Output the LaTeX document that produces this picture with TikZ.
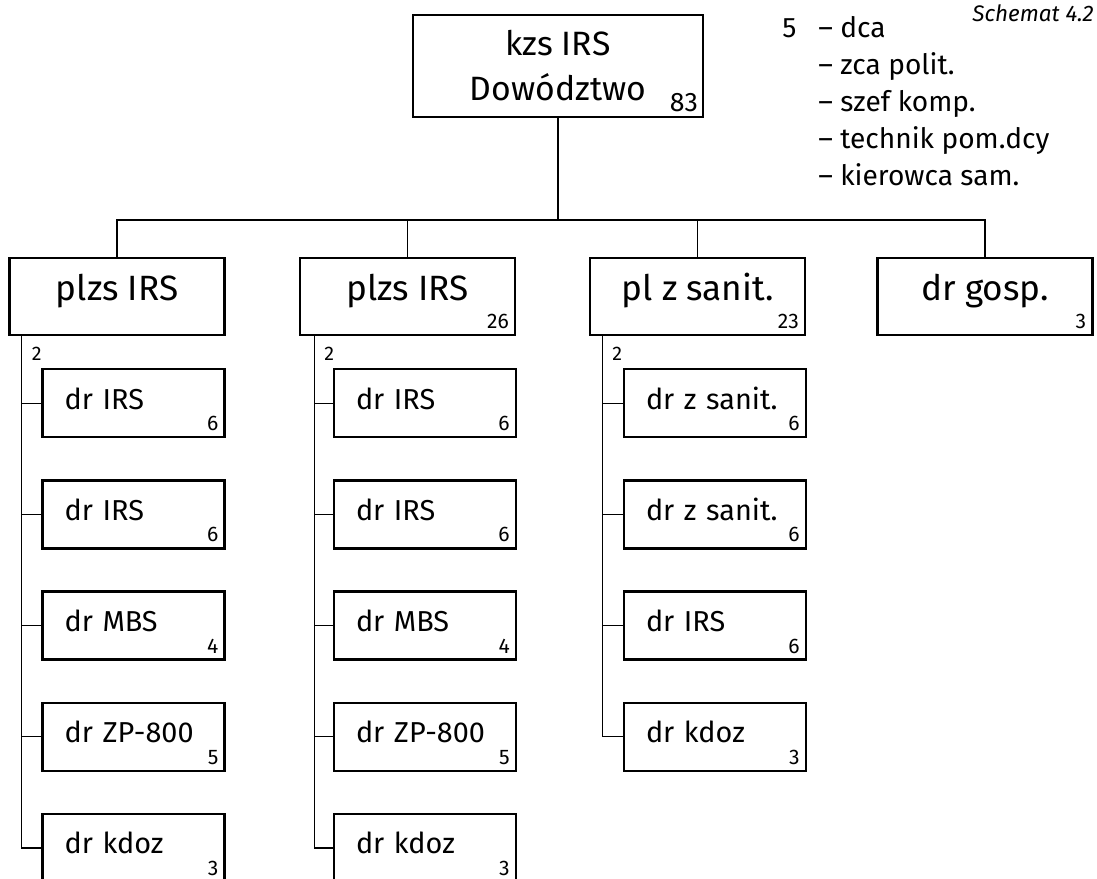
\documentclass[tikz,border=0pt]{standalone}
\usepackage{fontspec}
\setmainfont{Fira Sans}
\usepackage{tikz}
\usetikzlibrary{positioning}

\begin{document}
\begin{tikzpicture}[
    node distance=1.02cm,
    box/.style={rectangle, draw=black, line width=1.7pt, inner sep=0pt},
    topbox/.style={box, minimum width=7.25cm, minimum height=2.55cm, align=center,
                   font=\fontsize{24}{32}\selectfont},
    plbox/.style={box, minimum width=5.375cm, minimum height=1.925cm,
                  text height=0.7cm, text depth=0.5cm, font=\fontsize{25}{30}\selectfont},
    drbox/.style={box, text width=3.45cm, align=left, inner xsep=0.55cm,
                  minimum height=1.7cm, text height=0.55cm, text depth=0.25cm,
                  font=\fontsize{20.5}{24}\selectfont},
    num/.style={anchor=south east, inner sep=0.18cm, font=\fontsize{15}{17}\selectfont},
    cnt/.style={anchor=north west, inner sep=0pt, font=\fontsize{14}{16}\selectfont},
    staff/.style={anchor=north west, align=left, inner sep=0pt,
                  font=\fontsize{20}{26.3}\selectfont},
    line/.style={line width=0.8pt}
]
    \fill[white] (0,0) rectangle (27.425,-21.975);
    \useasboundingbox (0,0) rectangle (27.425,-21.975);

    % command and staff
    \node[topbox, label={[num, inner sep=0.15cm, font=\fontsize{19}{22}\selectfont]south east:83}]
        (hq) at (13.95,-1.65) {kzs IRS\\Dowództwo};
    \node[staff] (list) at (19.55,-0.4)
        {\makebox[0.9cm][l]{5}– dca\\
         \makebox[0.9cm]{}– zca polit.\\
         \makebox[0.9cm]{}– szef komp.\\
         \makebox[0.9cm]{}– technik pom.dcy\\
         \makebox[0.9cm]{}– kierowca sam.};
    \node[anchor=east, inner sep=0pt, font=\itshape\fontsize{16}{18}\selectfont]
        (title) at (27.35,-0.33) {Schemat 4.2};

    % platoons
    \coordinate (bar) at (0,-5.5);
    \node[plbox] (pA) at (2.925,-7.41) {plzs IRS};
    \node[plbox, label={[num]south east:26}] (pB) at (10.19,-7.41) {plzs IRS};
    \node[plbox, label={[num]south east:23}] (pC) at (17.44,-7.41) {pl z sanit.};
    \node[plbox, label={[num]south east:3}] (pD) at (24.625,-7.41) {dr gosp.};

    % sections of the first platoon
    \node[drbox, label={[num]south east:6}] (a1) at (3.34,-10.08) {dr IRS};
    \node[drbox, label={[num]south east:6}] (a2) [below=of a1] {dr IRS};
    \node[drbox, label={[num]south east:4}] (a3) [below=of a2] {dr MBS};
    \node[drbox, label={[num]south east:5}] (a4) [below=of a3] {dr ZP-800};
    \node[drbox, label={[num]south east:3}] (a5) [below=of a4] {dr kdoz};

    % sections of the second platoon
    \node[drbox, label={[num]south east:6}] (b1) at (10.625,-10.08) {dr IRS};
    \node[drbox, label={[num]south east:6}] (b2) [below=of b1] {dr IRS};
    \node[drbox, label={[num]south east:4}] (b3) [below=of b2] {dr MBS};
    \node[drbox, label={[num]south east:5}] (b4) [below=of b3] {dr ZP-800};
    \node[drbox, label={[num]south east:3}] (b5) [below=of b4] {dr kdoz};

    % sections of the medical platoon
    \node[drbox, label={[num]south east:6}] (c1) at (17.875,-10.08) {dr z sanit.};
    \node[drbox, label={[num]south east:6}] (c2) [below=of c1] {dr z sanit.};
    \node[drbox, label={[num]south east:6}] (c3) [below=of c2] {dr IRS};
    \node[drbox, label={[num]south east:3}] (c4) [below=of c3] {dr kdoz};

    % links to command
    \draw[line] (hq.south) -- (hq.south |- bar);
    \draw[line] (pA.north) -- (pA.north |- bar) -- (pD.north |- bar) -- (pD.north);
    \draw[line] (pB.north) -- (pB.north |- bar);
    \draw[line] (pC.north) -- (pC.north |- bar);

    % stems
    \coordinate (sA) at ([xshift=0.33cm]pA.south west);
    \coordinate (sB) at ([xshift=0.38cm]pB.south west);
    \coordinate (sC) at ([xshift=0.33cm]pC.south west);
    \node[cnt] (nA) at ([xshift=0.25cm, yshift=-0.28cm]sA) {2};
    \node[cnt] (nB) at ([xshift=0.25cm, yshift=-0.28cm]sB) {2};
    \node[cnt] (nC) at ([xshift=0.25cm, yshift=-0.28cm]sC) {2};

    \draw[line] (sA) |- (a5.west);
    \draw[line] (sA |- a1.west) -- (a1.west);
    \draw[line] (sA |- a2.west) -- (a2.west);
    \draw[line] (sA |- a3.west) -- (a3.west);
    \draw[line] (sA |- a4.west) -- (a4.west);

    \draw[line] (sB) |- (b5.west);
    \draw[line] (sB |- b1.west) -- (b1.west);
    \draw[line] (sB |- b2.west) -- (b2.west);
    \draw[line] (sB |- b3.west) -- (b3.west);
    \draw[line] (sB |- b4.west) -- (b4.west);

    \draw[line] (sC) |- (c4.west);
    \draw[line] (sC |- c1.west) -- (c1.west);
    \draw[line] (sC |- c2.west) -- (c2.west);
    \draw[line] (sC |- c3.west) -- (c3.west);
\end{tikzpicture}
\end{document}
